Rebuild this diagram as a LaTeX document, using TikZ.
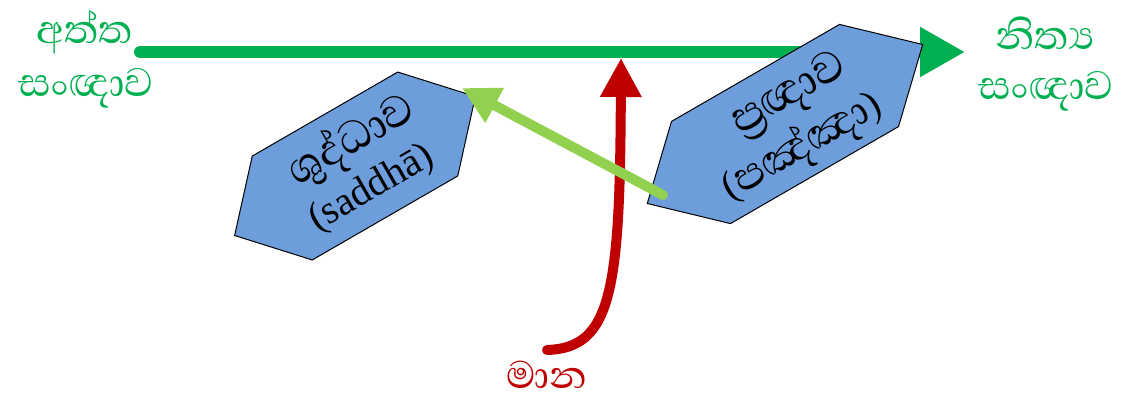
\documentclass[tikz,border=0pt]{standalone}
\usepackage{fontspec}
\setmainfont{Liberation Serif}
\newfontfamily\sinhalafont[Script=Sinhala]{Abhaya Libre}
\usetikzlibrary{arrows.meta}
\definecolor{mgreen}{HTML}{00B050}
\definecolor{lgreen}{HTML}{92D050}
\definecolor{mred}{HTML}{C00000}
\definecolor{hexblue}{HTML}{6D9EDB}
\newcommand\latintxt[1]{{\rmfamily\fontsize{40}{50}\selectfont #1}}
\tikzset{
  hexshape/.style={fill=hexblue, draw=black, line width=1pt, line join=miter},
  glabel/.style={text=mgreen, font=\sinhalafont\fontsize{51}{56}\selectfont, inner sep=0pt},
  rlabel/.style={text=mred, font=\sinhalafont\fontsize{49}{56}\selectfont, inner sep=0pt},
  hextext/.style={text=black, font=\sinhalafont\fontsize{56}{60}\selectfont, inner sep=0pt, rotate=30},
  bigarrow/.style={line width=12pt, line cap=round, -{Triangle[length=45pt,width=47pt]}},
}
\begin{document}
\begin{tikzpicture}[x=1pt,y=-1pt]
\useasboundingbox (0,0) rectangle (1145,405);
% main green arrow
\coordinate (gs) at (140,52);
\coordinate (ge) at (965,52);
\draw[mgreen, bigarrow] (gs) -- (ge);
% left hexagon
\begin{scope}[shift={(355,166)},rotate=30]
\draw[hexshape] (84,-60) -- (139,0) -- (84,60) -- (-84,60) -- (-139,0) -- (-84,-60) -- cycle;
\end{scope}
% right hexagon
\begin{scope}[shift={(785,124)},rotate=30]
\draw[hexshape] (97,-59) -- (159,0) -- (97,59) -- (-97,59) -- (-159,0) -- (-97,-59) -- cycle;
\end{scope}
% hexagon texts
\node[hextext] (saddhaS) at (352,141) {ශුද්ධාව};
\node[hextext] (saddhaL) at (372,189) {\latintxt{(saddhā)}};
\node[hextext] (pannaS) at (790,96) {ප්^^^^200dරඥාව};
\node[hextext, font=\sinhalafont\fontsize{53}{60}\selectfont] (pannaP) at (802,147) {\latintxt{(}පඤ්ඤා\latintxt{)}};
% red arrow
\coordinate (rs) at (547,350);
\coordinate (rt) at (621,58);
\draw[mred, line width=10pt, line cap=round, -{Triangle[length=39pt,width=39pt]}] (rs) .. controls (612,348) and (620,290) .. (rt);
% light green arrow
\coordinate (lgs) at (663,195);
\coordinate (lgt) at (462,88);
\draw[lgreen, line width=10pt, line cap=round, -{Triangle[length=37pt,width=37pt]}] (lgs) -- (lgt);
% labels
\node[glabel] (atta) at (85,32) {අත්ත};
\node[glabel] (sanna1) at (86,88) {සංඥාව};
\node[glabel] (nicca) at (1045,33) {නිත්^^^^200dය};
\node[glabel] (sanna2) at (1046,91) {සංඥාව};
\node[rlabel] (mana) at (547,375) {මාන};
\end{tikzpicture}
\end{document}
